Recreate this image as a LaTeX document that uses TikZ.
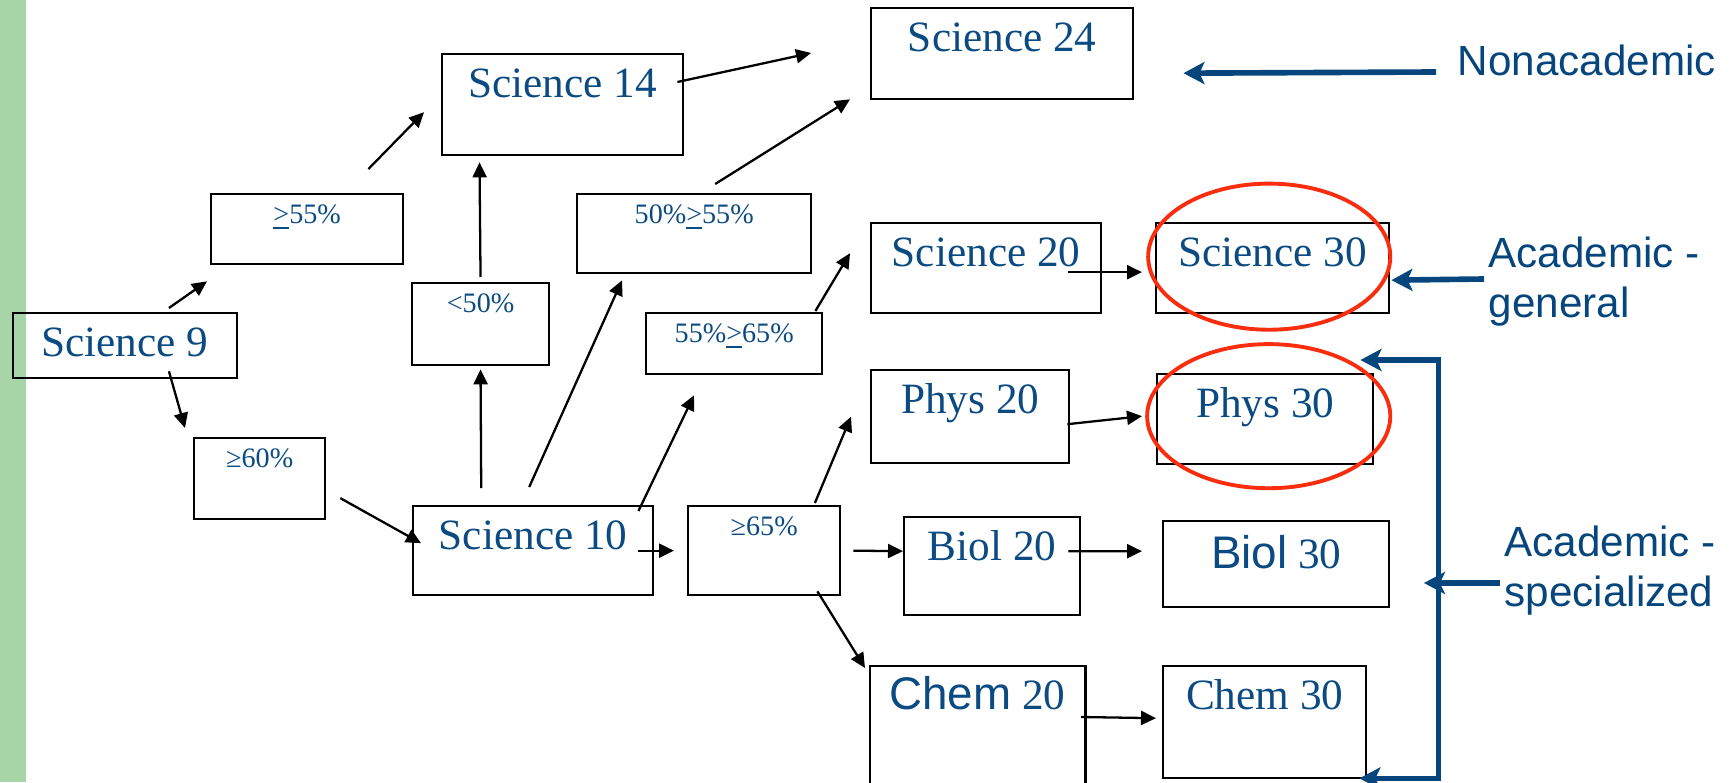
\documentclass[tikz,border=0pt]{standalone}
\usepackage{fontspec}
\setmainfont{Liberation Serif}
\newfontfamily\arialf{Liberation Sans}
\usepackage{xcolor}
\usepackage{tikz}
\usetikzlibrary{arrows.meta}
\usetikzlibrary{calc}

\definecolor{txtblue}{RGB}{12,74,130}
\definecolor{tagblue}{RGB}{6,70,124}
\definecolor{ringred}{RGB}{250,45,15}
\definecolor{sidegreen}{RGB}{168,213,168}

\begin{document}
\begin{tikzpicture}[x=0.01cm, y=-0.01cm]

% Define styles
\tikzset{
    course/.style 2 args={draw, line width=0.65pt, inner sep=0pt, anchor=north west, text=txtblue, font=\fontsize{12.3}{14}\selectfont, text height=0.43cm, minimum width=#1, text depth=#2},
    grade/.style 2 args={course={#1}{#2}, font=\fontsize{8}{9}\selectfont, text height=0.29cm},
    flow/.style={line width=0.65pt, -{Triangle[length=0.15cm, width=0.14cm]}},
    tag/.style={draw=tagblue, line width=1.6pt, >={Stealth[length=0.21cm, width=0.22cm, inset=0.05cm]}},
    tagtext/.style={inner sep=0pt, align=left, text=tagblue, font=\arialf\fontsize{12}{14.2}\selectfont},
    ring/.style={draw=ringred, line width=1.1pt}
}

% page and side bar
\useasboundingbox (0,0) rectangle (1734,782);
\clip (0,0) rectangle (1734,782);
\fill[sidegreen] (0,0) rectangle (26,782);

% grade 9 and 10 courses
\node[course={2.245cm}{0.22cm}] (s9) at (11.5,312) {Science 9};
\node[grade={1.92cm}{0.41cm}] (p55) at (210,193) {\underline{>}55\%};
\node[grade={1.31cm}{0.52cm}] (p60) at (193,437) {≥60\%};
\node[course={2.415cm}{0.58cm}] (s14) at (440.5,53) {Science 14};
\node[grade={1.375cm}{0.53cm}] (l50) at (410.6,282) {<50\%};
\node[course={2.40cm}{0.46cm}] (s10) at (412,505) {Science 10};
\node[grade={2.34cm}{0.50cm}] (m55) at (576,193) {50\%\underline{>}55\%};
\node[grade={1.76cm}{0.32cm}] (m65) at (645,312) {55\%\underline{>}65\%};
\node[grade={1.52cm}{0.60cm}] (p65) at (687,505) {≥65\%};

% 20 level
\node[course={2.62cm}{0.48cm}] (s24) at (870,7) {Science 24};
\node[course={2.30cm}{0.47cm}] (s20) at (870,222) {Science 20};
\node[course={1.98cm}{0.50cm}] (ph20) at (870,369) {Phys 20};
\node[course={1.76cm}{0.55cm}] (bi20) at (903,516) {Biol 20};
\node[course={2.155cm}{0.97cm}] (ch20) at (868.6,665) {{\arialf\fontsize{13}{15}\selectfont Chem} 20};

% 30 level
\node[course={2.33cm}{0.47cm}] (s30) at (1155,222) {Science 30};
\node[course={2.16cm}{0.47cm}] (ph30) at (1156,373) {Phys 30};
\node[course={2.26cm}{0.39cm}, text height=0.47cm] (bi30) at (1162,520) {{\arialf\fontsize{13}{15}\selectfont Biol} 30};
\node[course={2.03cm}{0.69cm}] (ch30) at (1162,665) {Chem 30};

% routes
\draw[flow] ($(s9.north)+(44,-4)$) -- ($(p55.south west)+(-3,16)$);
\draw[flow] ($(s9.south)+(44,-8)$) -- ($(p60.north west)+(-8,-9)$);
\draw[flow] ($(p55.north east)+(-36,-24)$) -- ($(s14.west)+(-16.5,7.5)$);
\draw[flow] ($(p60.east)+(14,19.5)$) -- ($(s10.west)+(9,-7.5)$);
\draw[flow] ($(s10.north)+(-52,-17)$) -- ($(l50.south)+(0,3)$);
\draw[flow] ($(l50.north)+(0,-5)$) -- ($(s14.south west)+(39,6)$);
\draw[flow] ($(s10.north)+(-4,-18)$) -- ($(m55.south west)+(46,6)$);
\draw[flow] ($(s10.north east)+(-16,6)$) -- ($(m65.south west)+(49,20)$);
\draw[flow] ($(s10.east)+(-16,0)$) -- ($(p65.west)+(-13,0)$);
\draw[flow] ($(s14.north east)+(-7,29)$) -- ($(s24.north west)+(-59,46)$);
\draw[flow] ($(m55.north)+(21,-9)$) -- ($(s24.south west)+(-20,-1)$);
\draw[flow] ($(m65.north east)+(-8,-1)$) -- ($(s20.west)+(-20,-15)$);
\draw[flow] ($(s20.east)+(-34,4)$) -- ($(s30.west)+(-13,4)$);
\draw[flow] ($(p65.north east)+(-26.5,-2)$) -- ($(ph20.west)+(-19,0)$);
\draw[flow] ($(ph20.east)+(-3,7.5)$) -- ($(ph30.west)+(-14,-3)$);
\draw[flow] ($(p65.east)+(12,0)$) -- ($(bi20.west)+(0,-15)$);
\draw[flow] ($(bi20.east)+(-13,-15)$) -- ($(bi30.west)+(-20,-13)$);
\draw[flow] ($(p65.south east)+(-24,-5)$) -- ($(ch20.north west)+(-3.6,3)$);
\draw[flow] ($(ch20.north east)+(-5.4,52)$) -- ($(ch30.west)+(-6,-4)$);

% circled diploma courses
\draw[ring] ($(s30.center)+(-3.5,-11.5)$) ellipse [x radius=1.21cm, y radius=0.73cm];
\draw[ring] ($(ph30.center)+(3.5,-3)$) ellipse [x radius=1.215cm, y radius=0.72cm];

% stream labels
\node[tagtext, anchor=base west] (nonac) at (1457,76) {Nonacademic};
\node[tagtext, anchor=north west] (gen) at (1488,236) {Academic -\\general};
\node[tagtext, anchor=north west] (spec) at (1504,525) {Academic -\\specialized};

\draw[tag, ->] ($(nonac.base west)+(-21,-4)$) -- ($(s24.east)+(49,19.5)$);
\draw[tag, ->] ($(gen.north west)+(-4,43)$) -- ($(s30.east)+(1,12)$);
\coordinate (spine) at ($(ph30.north east)+(64,-13)$);
\draw[tag, <->] ($(ph30.north east)+(-14,-13)$) -- (spine) |- ($(ch30.south east)+(-8,-1)$);
\draw[tag, ->] ($(spec.north west)+(-4,58)$) -- ($(spine |- spec.north west)+(-14.5,58)$);

\end{tikzpicture}
\end{document}
